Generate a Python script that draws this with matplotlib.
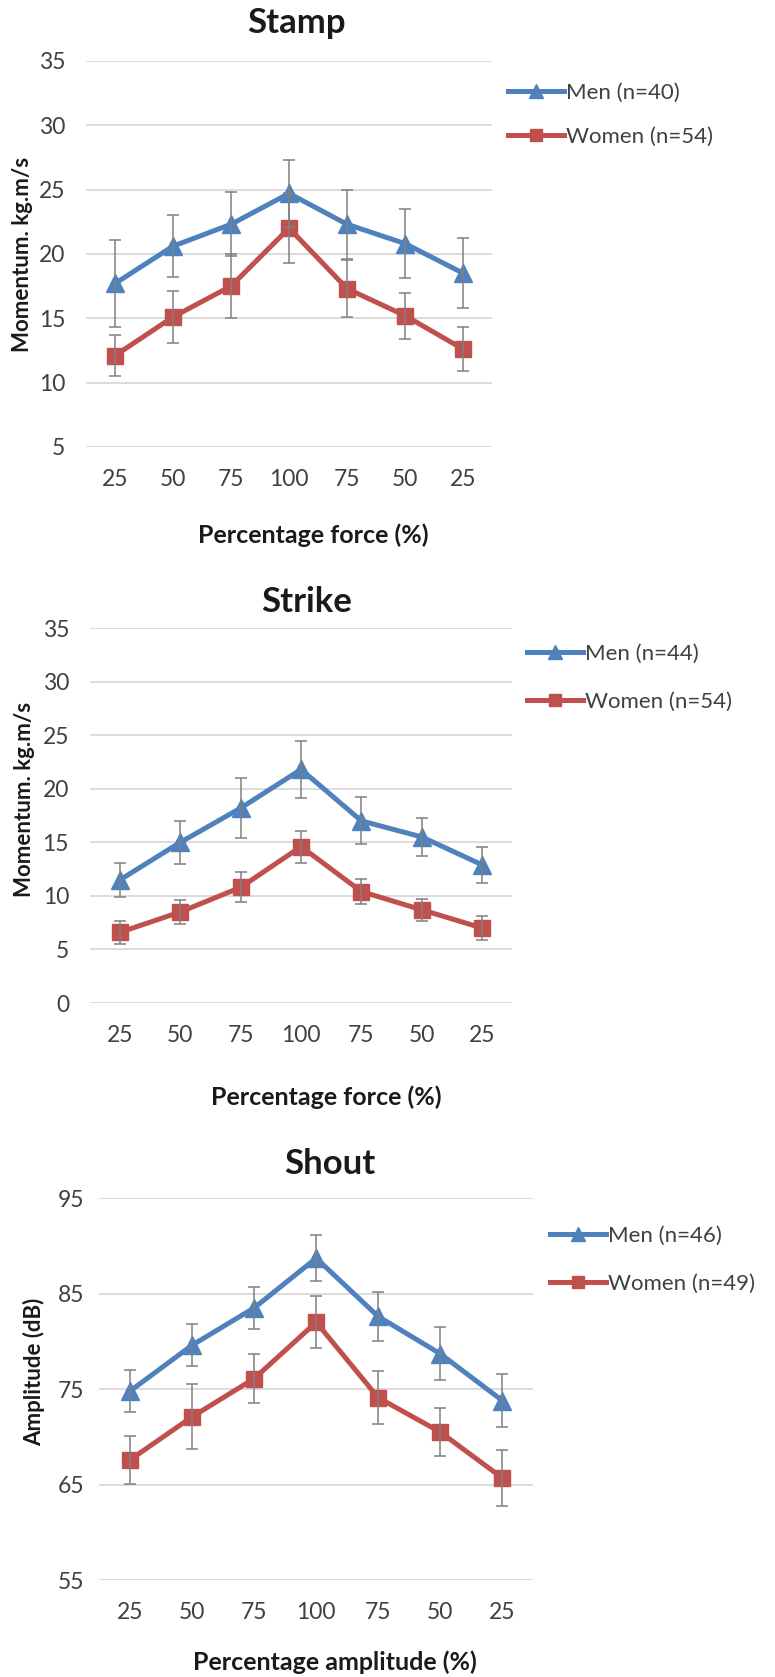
import matplotlib.pyplot as plt

plt.rcParams['font.family'] = ['Lato', 'DejaVu Sans']

# Percentage steps on the x axis (up to 100 and back down)
categories = ['25', '50', '75', '100', '75', '50', '25']

# Stamp: momentum (kg.m/s)
stamp_men = [17.7, 20.6, 22.3, 24.7, 22.3, 20.8, 18.5]
stamp_men_err = [3.4, 2.4, 2.5, 2.6, 2.7, 2.7, 2.7]
stamp_women = [12.1, 15.1, 17.5, 22.0, 17.3, 15.2, 12.6]
stamp_women_err = [1.6, 2.0, 2.5, 2.7, 2.2, 1.8, 1.7]

# Strike: momentum (kg.m/s)
strike_men = [11.5, 15.0, 18.2, 21.8, 17.0, 15.5, 12.9]
strike_men_err = [1.6, 2.0, 2.8, 2.7, 2.2, 1.8, 1.7]
strike_women = [6.6, 8.5, 10.8, 14.6, 10.4, 8.7, 7.0]
strike_women_err = [1.1, 1.1, 1.4, 1.5, 1.2, 1.05, 1.1]

# Shout: amplitude (dB)
shout_men = [74.8, 79.6, 83.5, 88.7, 82.6, 78.7, 73.8]
shout_men_err = [2.2, 2.2, 2.2, 2.4, 2.6, 2.8, 2.8]
shout_women = [67.6, 72.1, 76.1, 82.0, 74.1, 70.5, 65.7]
shout_women_err = [2.5, 3.4, 2.6, 2.7, 2.8, 2.5, 2.9]

BLUE = '#4F81BD'
RED = '#C0504D'
ERR = '#808080'
GRID = '#D9D9D9'
TXT = '#1a1a1a'
TICK = '#404040'

fig = plt.figure(figsize=(7.75, 16.77), dpi=100)

panels = [
    dict(rect=[0.111, 0.7335, 0.524, 0.2302], title='Stamp', title_xy=(0.382, 0.986),
         ylabel='Momentum. kg.m/s', ylabel_xy=(0.029, 0.848),
         xlabel='Percentage force (%)', xlabel_xy=(0.404, 0.681),
         yticks=range(5, 36, 5), ylim=(5, 35), ypad=15,
         men=(stamp_men, stamp_men_err, 'Men (n=40)'),
         women=(stamp_women, stamp_women_err, 'Women (n=54)'),
         leg_xy=(0.6555, 0.9314), leg_space=1.07),
    dict(rect=[0.116, 0.4019, 0.545, 0.2236], title='Strike', title_xy=(0.396, 0.641),
         ylabel='Momentum. kg.m/s', ylabel_xy=(0.031, 0.523),
         xlabel='Percentage force (%)', xlabel_xy=(0.421, 0.346),
         yticks=range(0, 36, 5), ylim=(0, 35), ypad=15,
         men=(strike_men, strike_men_err, 'Men (n=44)'),
         women=(strike_women, strike_women_err, 'Women (n=54)'),
         leg_xy=(0.680, 0.5957), leg_space=1.25),
    dict(rect=[0.128, 0.0578, 0.56, 0.2278], title='Shout', title_xy=(0.425, 0.306),
         ylabel='Amplitude (dB)', ylabel_xy=(0.044, 0.182),
         xlabel='Percentage amplitude (%)', xlabel_xy=(0.432, 0.009),
         yticks=range(55, 96, 10), ylim=(55, 95), ypad=11,
         men=(shout_men, shout_men_err, 'Men (n=46)'),
         women=(shout_women, shout_women_err, 'Women (n=49)'),
         leg_xy=(0.710, 0.2487), leg_space=1.25),
]

x = list(range(len(categories)))

for p in panels:
    ax = fig.add_axes(p['rect'])
    handles = []
    for (vals, errs, label), color, marker, ms in [
        (p['men'], BLUE, '^', 13),
        (p['women'], RED, 's', 11),
    ]:
        h, = ax.plot(x, vals, color=color, lw=3.6, marker=marker, ms=ms,
                     label=label, zorder=3)
        ax.errorbar(x, vals, yerr=errs, fmt='none', ecolor=ERR, elinewidth=1.1,
                    capsize=4.5, capthick=1.1, zorder=4)
        handles.append(h)

    ax.set_xlim(-0.5, len(categories) - 0.5)
    ax.set_ylim(*p['ylim'])
    ax.set_yticks(list(p['yticks']))
    ax.set_xticks(x)
    ax.set_xticklabels(categories)
    ax.grid(axis='y', color=GRID, lw=1.3)
    ax.set_axisbelow(True)
    for s in ax.spines.values():
        s.set_visible(False)
    ax.tick_params(axis='both', length=0, labelsize=16.5, colors=TICK)
    ax.tick_params(axis='y', pad=p['ypad'])
    ax.tick_params(axis='x', pad=16)

    fig.text(*p['title_xy'], p['title'], ha='center', va='center',
             fontsize=25, fontweight='bold', color=TXT)
    fig.text(*p['ylabel_xy'], p['ylabel'], ha='center', va='center', rotation=90,
             fontsize=16, fontweight='bold', color=TXT)
    fig.text(*p['xlabel_xy'], p['xlabel'], ha='center', va='center',
             fontsize=18, fontweight='bold', color=TXT)

    fig.legend(handles=handles, loc='center left', bbox_to_anchor=p['leg_xy'],
               frameon=False, fontsize=16, handlelength=2.5, handletextpad=0.1,
               borderpad=0, borderaxespad=0, labelspacing=p['leg_space'],
               markerscale=0.8, labelcolor=TICK)

fig.savefig('out.png', dpi=100)
